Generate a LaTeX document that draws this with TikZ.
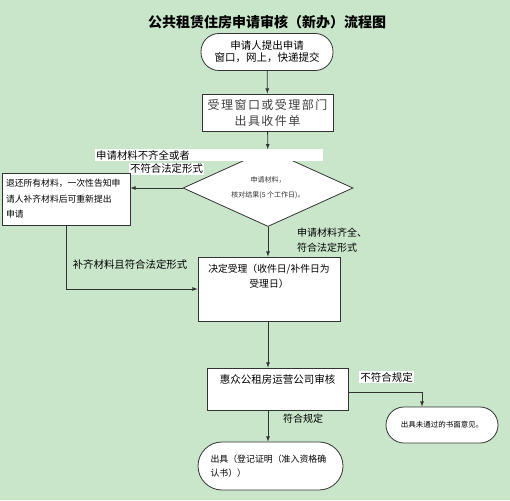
\documentclass[tikz,border=0pt]{standalone}
\usepackage{fontspec}
\setmainfont{Noto Sans CJK SC}
\newfontfamily\thinfont[LetterSpace=12]{Noto Sans CJK SC}
\usetikzlibrary{shapes.geometric}
\definecolor{bg}{HTML}{C9E6CB}
\definecolor{ink}{HTML}{333333}
\tikzset{proc/.style={black,draw=ink,fill=white,rectangle,line width=0.8pt,inner sep=2pt}}
\tikzset{term/.style={black,draw=ink,fill=white,rectangle,line width=0.8pt,inner sep=2pt}}
\tikzset{check/.style={black,draw=ink,fill=white,diamond,aspect=2.2,inner sep=0pt,line width=0.8pt}}
\tikzset{note/.style={black,fill=white,inner sep=1pt}}
\tikzset{lbl/.style={black,inner sep=1pt}}
\tikzset{flow/.style={-latex,draw=ink,line width=0.8pt}}

\begin{document}
\begin{tikzpicture}[x=1pt,y=-1pt]
    \fill[bg] (0,0) rectangle (510,500);
    \useasboundingbox (0,0) rectangle (510,500);

    \node[lbl,font=\fontsize{14}{16}\selectfont\bfseries] (title) at (267,22)
    {公共租赁住房申请审核（新办）流程图};

    \node[term,rounded corners=18pt,minimum width=132pt,minimum height=37pt,align=center,
      font=\fontsize{10.5}{12}\selectfont] (apply) at (267,52)
    {申请人提出申请\\窗口，网上，快递提交};

    \node[proc,minimum width=131pt,minimum height=37pt,align=center,text=black!75,
      font=\fontsize{12}{16}\thinfont] (receipt) at (267.5,112.5)
    {受理窗口或受理部门\\出具收件单};

    \node[check,minimum width=170pt,minimum height=77pt,align=center,text=black!80,
      font=\fontsize{7}{15}\selectfont] (verify) at (268,188)
    {申请材料，\\核对结果(5 个工作日)。};

    \node[note,text width=226pt,align=left,font=\fontsize{10.4}{12}\selectfont,
      anchor=west] (missing1) at (95,155) {申请材料不齐全或者};
    \node[note,font=\fontsize{10.4}{12}\selectfont] (missing2) at (166.5,169)
    {不符合法定形式};

    \node[proc,minimum width=128pt,minimum height=52pt,text width=120pt,align=left,
      font=\fontsize{8.8}{15.5}\selectfont] (return) at (66,199)
    {退还所有材料，一次性告知申\\请人补齐材料后可重新提出\\申请};

    \node[lbl,font=\fontsize{10.4}{12}\selectfont] (resubmit) at (130,265)
    {补齐材料且符合法定形式};

    \node[lbl,anchor=west,align=left,font=\fontsize{10}{15}\selectfont] (complete) at (296,240.5)
    {申请材料齐全、\\符合法定形式};

    \node[proc,minimum width=142pt,minimum height=64pt,inner sep=0pt] (accept) at (269,289)
    {\parbox[c][50pt][t]{138pt}{\centering\fontsize{9.8}{15}\selectfont
      决定受理（收件日/补件日为\\受理日）}};

    \node[proc,minimum width=141pt,minimum height=42pt,inner sep=0pt] (review) at (277.5,389)
    {\parbox[c][28pt][t]{135pt}{\centering\fontsize{10.5}{13}\selectfont
      惠众公租房运营公司审核}};

    \node[note,font=\fontsize{10.5}{12}\selectfont] (fail) at (386.5,377) {不符合规定};

    \node[term,rounded corners=18pt,minimum width=112pt,minimum height=36pt,
      font=\fontsize{7.5}{9}\selectfont] (reject) at (442,425)
    {出具未通过的书面意见。};

    \node[lbl,font=\fontsize{10}{12}\selectfont] (pass) at (303,419) {符合规定};

    \node[term,rounded corners=24pt,minimum width=145pt,minimum height=48pt,
      text width=120pt,align=left,font=\fontsize{8.9}{14}\selectfont] (issue) at (270.5,466)
    {出具（登记证明（准入资格确\\认书））};

    \draw[flow] (apply) -- (receipt);
    \draw[flow] (receipt) -- (verify);
    \draw[flow] (verify.west) -- (verify.west -| return.east);
    \draw[flow] (return.south) |- (accept.west);
    \draw[flow] (verify.south) -- (verify.south |- accept.north);
    \draw[flow] (verify.south |- accept.south) -- (verify.south |- review.north);
    \draw[flow] ([yshift=-3pt]review.east) -| ([xshift=-20pt]reject.north);
    \draw[flow] (verify.south |- review.south) -- (verify.south |- issue.north);

  \end{tikzpicture}
\end{document}
